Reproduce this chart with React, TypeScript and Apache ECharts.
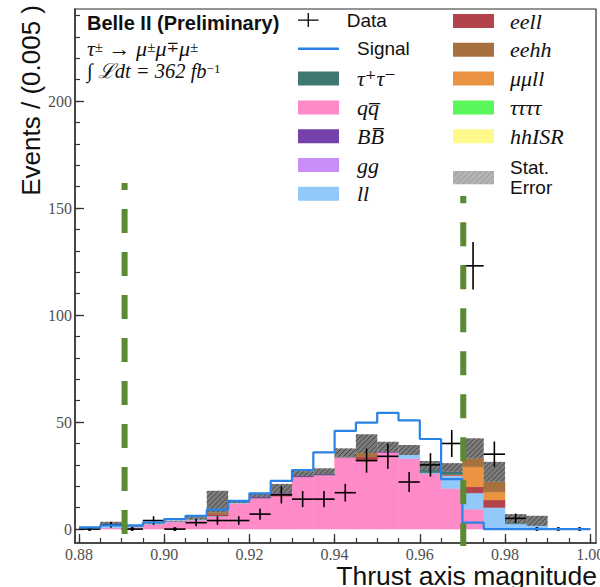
import React, { useEffect, useRef } from "react";
import * as echarts from "echarts";

// Low edge of every 0.005-wide bin of the thrust-axis magnitude
const BIN_LOW = [
  0.88, 0.885, 0.89, 0.895, 0.9, 0.905, 0.91, 0.915, 0.92, 0.925, 0.93, 0.935,
  0.94, 0.945, 0.95, 0.955, 0.96, 0.965, 0.97, 0.975, 0.98, 0.985, 0.99, 0.995,
];
const BIN_WIDTH = 0.005;

// Observed events per bin
const DATA_COUNTS = [0, 2, 0, 4, 0, 3, 4, 4, 7, 16, 14, 14, 17, 32, 34, 22, 30, 40, 123, 35, 5, 0, 0, 0];

// Signal expectation (drawn as an unstacked outline)
const SIGNAL = [
  0.8, 1.7, 1.7, 3.2, 4.7, 6.2, 9.1, 13.2, 16.7, 22.5, 27.6, 35.8,
  45.9, 49.7, 54.3, 50.8, 42.1, 23.3, 3.0, 0, 0, 0, 0, 0,
];

// Stacked background components
const BKG_QQ = [0.2, 0.6, 0.8, 2.2, 3.3, 4.2, 5.8, 12.0, 14.5, 15.4, 24.4, 25.2, 33.6, 32.0, 35.8, 33.0, 26.0, 19.0, 9.3, 0.3, 0, 0, 0, 0];
const BKG_LL = [0.4, 0.8, 0.3, 0.1, 0.2, 0.2, 0.3, 0.2, 0, 0, 0, 0, 0, 0, 0, 1.6, 0.3, 6.0, 7.6, 9.8, 2.5, 1.5, 0, 0];
const BKG_EELL = [0, 0, 0, 0, 0, 0, 0.8, 0, 0, 0.5, 0, 0, 0, 1.8, 0, 0, 0, 0.2, 2.9, 3.5, 0, 0, 0, 0];
const BKG_MUMULL = [0, 0, 0, 0, 0, 0, 0, 0, 0, 0, 0, 0, 0, 0, 0, 0, 0, 0.3, 9.3, 3.8, 0, 0, 0, 0];
const BKG_EEHH = [0, 0, 0, 0, 0, 0, 0.9, 0, 0, 0.6, 0, 0, 0, 1.7, 0, 0, 0, 0, 3.9, 4.7, 0, 0, 0, 0];
const BKG_TAUTAU = [0, 0, 0, 0, 0, 0, 0, 0, 0.2, 0, 0.2, 0.3, 0.2, 0, 0, 0, 1.3, 1.3, 0, 0, 0.2, 0, 0, 0];
const BKG_BB = [0, 0, 0, 0, 0, 0, 0, 0, 0.3, 0.3, 0.2, 0.2, 0, 0, 0.3, 0, 0, 0, 0, 0, 0, 0, 0, 0];
const BKG_GG = [0, 0, 0, 0, 0, 0, 0, 0, 0, 0, 0, 0, 0, 0, 0, 0, 0, 0, 0, 0, 0, 0, 0, 0];
const BKG_4TAU = [0, 0, 0, 0, 0, 0, 0, 0, 0, 0, 0, 0, 0, 0, 0, 0, 0, 0, 0, 0, 0, 0, 0, 0];
const BKG_HHISR = [0, 0, 0, 0, 0, 0, 0, 0, 0, 0, 0, 0, 0, 0, 0, 0, 0, 0, 0, 0, 0, 0, 0, 0];

// Height of the hatched statistical-uncertainty box on top of the stack
const STAT_ERR = [0.4, 2.0, 0.6, 0.4, 0.4, 1.2, 10.1, 0.6, 1.4, 4.3, 2.3, 2.7, 3.9, 8.8, 4.7, 4.7, 4.2, 4.0, 9.4, 9.3, 4.3, 4.7, 0, 0];

// Axis ticks
const X_MAJOR = [0.88, 0.9, 0.92, 0.94, 0.96, 0.98, 1.0];
const X_MINOR = [
  0.88, 0.885, 0.89, 0.895, 0.9, 0.905, 0.91, 0.915, 0.92, 0.925, 0.93, 0.935, 0.94,
  0.945, 0.95, 0.955, 0.96, 0.965, 0.97, 0.975, 0.98, 0.985, 0.99, 0.995, 1.0,
];
const Y_MAJOR = [0, 50, 100, 150, 200];
const Y_MINOR = [0, 10, 20, 30, 40, 50, 60, 70, 80, 90, 100, 110, 120, 130, 140, 150, 160, 170, 180, 190, 200, 210, 220, 230, 240];
const X_RANGE = [0.87906, 1.00136];
const Y_RANGE = [-6.5, 243];

// Selection cut positions and vertical extents
const CUT_LOW = 0.8907;
const CUT_LOW_SPAN = [-2.3, 161.7];
const CUT_HIGH = 0.9702;
const CUT_HIGH_SPAN = [-8.5, 155.6];

const SANS = "'Liberation Sans', Arial, Helvetica, sans-serif";
const SERIF = "'Liberation Serif', 'DejaVu Serif', 'Times New Roman', serif";

const BACKGROUNDS = [
  { name: "qq\u0305", color: "#fe8ac7", values: BKG_QQ },
  { name: "ll", color: "#92c9fa", values: BKG_LL },
  { name: "eell", color: "#b3434b", values: BKG_EELL },
  { name: "μμll", color: "#ea9442", values: BKG_MUMULL },
  { name: "eehh", color: "#a6703f", values: BKG_EEHH },
  { name: "τ⁺τ⁻", color: "#3f7773", values: BKG_TAUTAU },
  { name: "BB\u0305", color: "#7541aa", values: BKG_BB },
  { name: "gg", color: "#c98df8", values: BKG_GG },
  { name: "ττττ", color: "#5af65a", values: BKG_4TAU },
  { name: "hhISR", color: "#fdf98a", values: BKG_HHISR },
];

const MATH_NAMES = new Set(BACKGROUNDS.map((b) => b.name));

// Legend columns, top to bottom
const LEGEND_LEFT_COLUMN = ["Data", "Signal", "τ⁺τ⁻", "qq\u0305", "BB\u0305", "gg", "ll"];
const LEGEND_RIGHT_COLUMN = ["eell", "eehh", "μμll", "ττττ", "hhISR"];

const CROSS_ICON = "path://M0,6.9h22v1.4h-22z M10.3,0h1.4v15h-1.4z";
const LINE_ICON = "path://M0,0h41v2.4h-41z";
const HATCH_SVG =
  '<svg xmlns="http://www.w3.org/2000/svg" width="41" height="14" viewBox="0 0 41 14">' +
  '<defs><pattern id="h" width="4" height="4" patternUnits="userSpaceOnUse" patternTransform="rotate(45)">' +
  '<line x1="0" y1="0" x2="0" y2="4" stroke="#8d8d8d" stroke-width="1.2"/></pattern></defs>' +
  '<rect width="41" height="14" fill="#b5b5b5"/><rect width="41" height="14" fill="url(#h)"/></svg>';
const HATCH_ICON = "image://data:image/svg+xml;charset=utf-8," + encodeURIComponent(HATCH_SVG);

function rectItem(color: string) {
  return (_params: any, api: any) => {
    const base = api.value(2);
    const top = api.value(3);
    if (!(top - base > 0)) return null;
    const p0 = api.coord([api.value(0), base]);
    const p1 = api.coord([api.value(1), top]);
    return {
      type: "rect",
      shape: { x: p0[0], y: p1[1], width: p1[0] - p0[0], height: p0[1] - p1[1] },
      style: { fill: color, stroke: color, lineWidth: 0.5 },
    };
  };
}

function hatchItem(_params: any, api: any) {
  const base = api.value(2);
  const top = api.value(3);
  if (!(top - base > 0)) return null;
  const p0 = api.coord([api.value(0), base]);
  const p1 = api.coord([api.value(1), top]);
  const x0 = p0[0];
  const x1 = p1[0];
  const yTop = p1[1];
  const yBot = p0[1];
  const children: any[] = [
    {
      type: "rect",
      shape: { x: x0, y: yTop, width: x1 - x0, height: yBot - yTop },
      style: { fill: "#7c7c7c" },
    },
  ];
  // diagonal "///" strokes clipped to the box: x + y = k
  for (let k = x0 + yTop + 2; k < x1 + yBot; k += 5) {
    const xa = Math.max(x0, k - yBot);
    const xb = Math.min(x1, k - yTop);
    if (xb > xa) {
      children.push({
        type: "line",
        shape: { x1: xa, y1: k - xa, x2: xb, y2: k - xb },
        style: { stroke: "#3e3e3e", lineWidth: 0.9 },
      });
    }
  }
  return { type: "group", children };
}

function dataItem(_params: any, api: any) {
  const lo = api.value(0);
  const hi = api.value(1);
  const n = api.value(2);
  const pL = api.coord([lo, n]);
  const pR = api.coord([hi, n]);
  const xm = (pL[0] + pR[0]) / 2;
  const style = { stroke: "#000", lineWidth: 1.6 };
  const children: any[] = [
    { type: "line", shape: { x1: pL[0], y1: pL[1], x2: pR[0], y2: pR[1] }, style },
  ];
  if (n > 0) {
    const e = Math.sqrt(n);
    const pT = api.coord([lo, n + e]);
    const pB = api.coord([lo, n - e]);
    children.push({ type: "line", shape: { x1: xm, y1: pT[1], x2: xm, y2: pB[1] }, style });
  } else {
    children.push({ type: "circle", shape: { cx: xm, cy: pL[1], r: 2 }, style: { fill: "#000" } });
  }
  return { type: "group", children };
}

function buildOption() {
  const nBins = BIN_LOW.length;
  const base = new Array(nBins).fill(0);
  const series: any[] = [];

  BACKGROUNDS.forEach((bkg) => {
    const data = BIN_LOW.map((lo, i) => {
      const item = [lo, lo + BIN_WIDTH, base[i], base[i] + bkg.values[i]];
      base[i] += bkg.values[i];
      return item;
    });
    series.push({
      type: "custom",
      name: bkg.name,
      itemStyle: { color: bkg.color },
      renderItem: rectItem(bkg.color),
      encode: { x: [0, 1], y: [2, 3] },
      data,
      z: 2,
      silent: true,
    });
  });

  series.push({
    type: "custom",
    name: "Stat. Error",
    itemStyle: { color: "#b5b5b5" },
    renderItem: hatchItem,
    encode: { x: [0, 1], y: [2, 3] },
    data: BIN_LOW.map((lo, i) => [lo, lo + BIN_WIDTH, base[i], base[i] + STAT_ERR[i]]),
    z: 2,
    silent: true,
  });

  series.push({
    type: "custom",
    name: "Data",
    itemStyle: { color: "#000" },
    renderItem: dataItem,
    encode: { x: [0, 1], y: 2 },
    data: BIN_LOW.map((lo, i) => [lo, lo + BIN_WIDTH, DATA_COUNTS[i]]),
    z: 3,
    silent: true,
  });

  const signalPts = BIN_LOW.map((lo, i) => [lo, SIGNAL[i]]);
  signalPts.push([BIN_LOW[nBins - 1] + BIN_WIDTH, SIGNAL[nBins - 1]]);
  series.push({
    type: "line",
    name: "Signal",
    step: "end",
    symbol: "none",
    data: signalPts,
    itemStyle: { color: "#2a83e4" },
    lineStyle: { color: "#2a83e4", width: 2.2 },
    z: 4,
    silent: true,
  });

  const cutStyle = { color: "#5a8a33", width: 6, type: [24, 19], cap: "butt" };
  series.push({
    type: "line",
    name: "cutLow",
    symbol: "none",
    data: [[CUT_LOW, CUT_LOW_SPAN[0]], [CUT_LOW, CUT_LOW_SPAN[1]]],
    lineStyle: cutStyle,
    z: 5,
    silent: true,
  });
  series.push({
    type: "line",
    name: "cutHigh",
    symbol: "none",
    data: [[CUT_HIGH, CUT_HIGH_SPAN[0]], [CUT_HIGH, CUT_HIGH_SPAN[1]]],
    lineStyle: cutStyle,
    z: 5,
    silent: true,
  });

  // ---- legend: one block per entry so every row sits on a fixed pitch ----
  const legendFormatter = (name: string) => {
    if (MATH_NAMES.has(name)) return `{m|${name}}`;
    if (name === "Stat. Error") return "{e|Stat.}\n{e|Error}";
    return `{t|${name}}`;
  };
  const legendRich = (pad: number) => ({
    m: { fontFamily: SERIF, fontStyle: "italic", fontSize: 22, lineHeight: 20, color: "#111", padding: [0, 0, 0, pad] },
    t: { fontFamily: SANS, fontSize: 19, lineHeight: 20, color: "#111", padding: [0, 0, 0, pad] },
    e: { fontFamily: SANS, fontSize: 19, lineHeight: 19.5, color: "#111", padding: [0, 0, 0, pad] },
  });
  const iconFor = (name: string) =>
    name === "Data" ? CROSS_ICON : name === "Signal" ? LINE_ICON : name === "Stat. Error" ? HATCH_ICON : "rect";
  const ROW_PITCH = 28.8;
  const FIRST_ROW = 20;
  const legendBlock = (name: string, left: number, centerY: number, pad: number, blockH: number) => ({
    orient: "vertical",
    left,
    top: centerY - blockH / 2,
    itemWidth: 41,
    itemHeight: 14,
    padding: 0,
    selectedMode: false,
    formatter: legendFormatter,
    textStyle: { lineHeight: 20, rich: legendRich(pad) },
    data: [{ name, icon: iconFor(name) }],
  });
  const legends: any[] = [];
  LEGEND_LEFT_COLUMN.forEach((name, i) => legends.push(legendBlock(name, 298, FIRST_ROW + i * ROW_PITCH, 13, 20)));
  LEGEND_RIGHT_COLUMN.forEach((name, i) => legends.push(legendBlock(name, 453, FIRST_ROW + i * ROW_PITCH, 11, 20)));
  legends.push(legendBlock("Stat. Error", 453, 177.5, 11, 39));

  const axisColor = "#333";
  const labelStyle = { fontFamily: SERIF, fontSize: 16, color: "#505050" };

  return {
    animation: false,
    backgroundColor: "#ffffff",
    grid: {
      left: 75,
      top: 9,
      width: 521,
      height: 534,
      show: true,
      borderColor: "#2a2a2a",
      borderWidth: 1.2,
      backgroundColor: "transparent",
      containLabel: false,
      outerBoundsMode: "none",
    },
    xAxis: [
      {
        type: "value",
        min: X_RANGE[0],
        max: X_RANGE[1],
        position: "bottom",
        axisLine: { onZero: false, lineStyle: { color: axisColor, width: 1.5 } },
        axisTick: { inside: true, length: 9, customValues: X_MAJOR, lineStyle: { color: axisColor, width: 1.3 } },
        axisLabel: {
          customValues: X_MAJOR,
          margin: 3,
          alignMinLabel: "center",
          alignMaxLabel: "center",
          hideOverlap: false,
          formatter: (v: number) => v.toFixed(2),
          ...labelStyle,
        },
        splitLine: { show: false },
      },
      {
        type: "value",
        min: X_RANGE[0],
        max: X_RANGE[1],
        position: "bottom",
        axisLine: { show: false, onZero: false },
        axisTick: { inside: true, length: 5, customValues: X_MINOR, lineStyle: { color: axisColor, width: 1.2 } },
        axisLabel: { show: false },
        splitLine: { show: false },
      },
    ],
    yAxis: [
      {
        type: "value",
        min: Y_RANGE[0],
        max: Y_RANGE[1],
        position: "left",
        axisLine: { show: true, onZero: false, lineStyle: { color: axisColor, width: 1.5 } },
        axisTick: { show: true, inside: true, length: 9, customValues: Y_MAJOR, lineStyle: { color: axisColor, width: 1.3 } },
        axisLabel: { customValues: Y_MAJOR, margin: 3, ...labelStyle },
        splitLine: { show: false },
      },
      {
        type: "value",
        min: Y_RANGE[0],
        max: Y_RANGE[1],
        position: "left",
        axisLine: { show: false, onZero: false },
        axisTick: { show: true, inside: true, length: 5, customValues: Y_MINOR, lineStyle: { color: axisColor, width: 1.2 } },
        axisLabel: { show: false },
        splitLine: { show: false },
      },
    ],
    legend: legends,
    graphic: [
      {
        type: "text",
        x: 87,
        y: 23,
        style: {
          text: "Belle II (Preliminary)",
          fontFamily: SANS,
          fontWeight: "bold",
          fontSize: 20,
          fill: "#111",
          align: "left",
          verticalAlign: "middle",
        },
      },
      {
        type: "text",
        x: 87,
        y: 48,
        style: {
          text: "{m|τ}{s|±}{m| → μ}{s|±}{m|μ}{s|∓}{m|μ}{s|±}",
          align: "left",
          verticalAlign: "middle",
          rich: {
            m: { fontFamily: SERIF, fontStyle: "italic", fontSize: 22, lineHeight: 18, fill: "#111" },
            s: { fontFamily: SERIF, fontSize: 15, lineHeight: 12, verticalAlign: "top", fill: "#111" },
          },
        },
      },
      {
        type: "text",
        x: 87,
        y: 70.5,
        style: {
          text: "{m|∫ ℒdt = 362 fb}{s|−1}",
          align: "left",
          verticalAlign: "middle",
          rich: {
            m: { fontFamily: SERIF, fontStyle: "italic", fontSize: 20.5, lineHeight: 18, fill: "#111" },
            s: { fontFamily: SERIF, fontSize: 13, lineHeight: 11, verticalAlign: "top", fill: "#111" },
          },
        },
      },
      {
        type: "text",
        x: 31,
        y: 5,
        rotation: Math.PI / 2,
        style: {
          text: "Events / (0.005 )",
          fontFamily: SANS,
          fontSize: 26,
          fill: "#111",
          align: "right",
          verticalAlign: "middle",
        },
      },
      {
        type: "text",
        x: 597,
        y: 576,
        style: {
          text: "Thrust axis magnitude",
          fontFamily: SANS,
          fontSize: 26.5,
          fill: "#111",
          align: "right",
          verticalAlign: "middle",
        },
      },
    ],
    series,
  };
}

export default function App() {
  const ref = useRef<HTMLDivElement | null>(null);

  useEffect(() => {
    if (!ref.current) return;
    const chart = echarts.init(ref.current, null, { renderer: "svg", width: 600, height: 587 });
    chart.setOption(buildOption() as any);
    return () => {
      chart.dispose();
    };
  }, []);

  return (
    <div
      ref={ref}
      style={{ position: "fixed", left: 0, top: 0, width: 600, height: 587, background: "#fff" }}
    />
  );
}
